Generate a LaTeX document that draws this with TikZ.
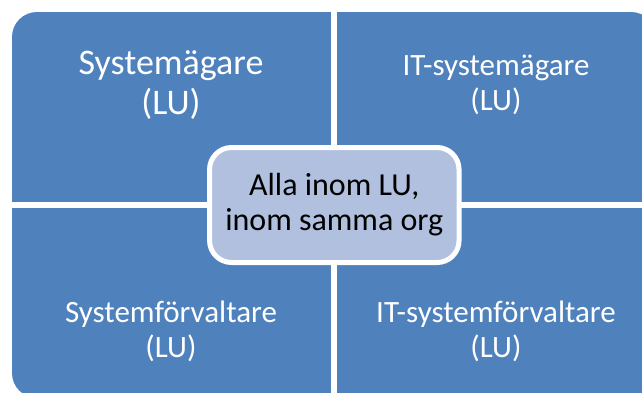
\documentclass[tikz,border=0pt]{standalone}
\usepackage{fontspec}
\setmainfont{Carlito}
\definecolor{quad}{RGB}{79,129,189}
\definecolor{mid}{RGB}{176,192,222}
\begin{document}
\begin{tikzpicture}[x=1pt,y=-1pt,
	lbl/.style={text=white,align=center,inner sep=0pt},
	big/.style={font=\fontsize{36}{40}\selectfont},
	small/.style={font=\fontsize{31}{35}\selectfont}]
	\useasboundingbox (0,0) rectangle (642,392);
	\clip (0,0) rectangle (642,392);
	\fill[quad,rounded corners=25pt] (12,12) rectangle (656,398);
	\coordinate (top) at (333.8,0);
	\coordinate (bot) at (333.8,400);
	\coordinate (lft) at (0,204.8);
	\coordinate (rgt) at (660,204.8);
	\draw[white,line width=5.5pt] (top)--(bot) (lft)--(rgt);
	\node[lbl,big] (own) at (171,85) {Systemägare\\(LU)};
	\node[lbl,small] (itown) at (496,84.5) {IT-systemägare\\(LU)};
	\node[lbl,small] (adm) at (171,331) {Systemförvaltare\\(LU)};
	\node[lbl,small] (itadm) at (496,331) {IT-systemförvaltare\\(LU)};
	\node[draw=white,line width=5pt,fill=mid,rounded corners=22pt,align=center,
		minimum width=249.5pt,minimum height=115pt,inner sep=0pt,
		font=\fontsize{32}{35}\selectfont] (all) at (334.3,205) {Alla inom LU,\\inom samma org};
\end{tikzpicture}
\end{document}
